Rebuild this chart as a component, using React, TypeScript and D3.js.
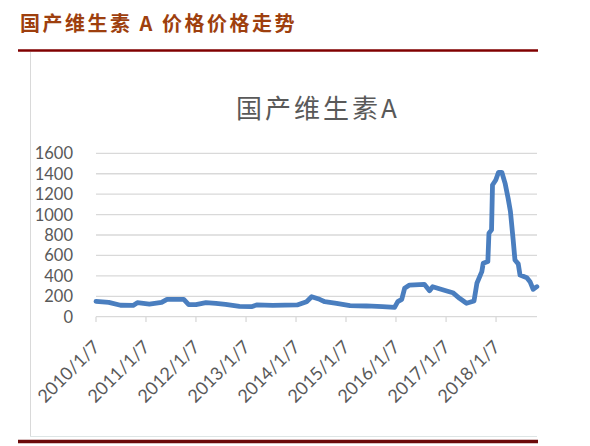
import React from "react";
import * as d3 from "d3";

const dates = [
  "2010-01-07","2010-04-10","2010-07-05","2010-10-05","2010-11-05","2011-02-01","2011-05-01","2011-06-10","2011-10-10","2011-11-15",
  "2012-01-07","2012-03-20","2012-06-01","2012-08-10","2012-11-20","2013-02-15","2013-03-25","2013-07-20","2014-01-15","2014-03-25",
  "2014-05-01","2014-06-28","2014-08-05","2014-10-30","2015-02-05","2015-06-05","2015-10-01","2015-12-28","2016-01-20","2016-02-18",
  "2016-03-10","2016-04-15","2016-08-01","2016-09-08","2016-10-01","2017-01-12","2017-02-25","2017-04-15","2017-06-05","2017-07-30",
  "2017-08-20","2017-09-25","2017-10-05","2017-11-08","2017-11-16","2017-12-05","2017-12-12","2018-01-05","2018-01-25","2018-02-18",
  "2018-03-14","2018-04-05","2018-04-22","2018-05-12","2018-05-25","2018-06-18","2018-07-01","2018-08-20","2018-09-12","2018-10-05",
  "2018-11-01"
];
const values = [
  150,140,112,110,137,124,140,170,170,118,
  118,137,131,121,102,98,115,111,115,147,
  196,170,147,131,108,105,98,92,147,170,
  278,310,317,255,294,252,235,180,131,154,
  327,441,523,540,817,850,1290,1339,1414,1414,
  1306,1160,1029,751,555,517,408,382,343,268,
  294
];
const tickLabels = ["2010/1/7","2011/1/7","2012/1/7","2013/1/7","2014/1/7","2015/1/7","2016/1/7","2017/1/7","2018/1/7"];
const yTicks = [0,200,400,600,800,1000,1200,1400,1600];

export default function App() {
  const parse = d3.timeParse("%Y-%m-%d");
  const parseTick = d3.timeParse("%Y/%m/%d");
  const data = dates.map((d, i) => ({ date: parse(d) as Date, value: values[i] }));
  const x = d3.scaleTime().domain([parse("2010-01-07") as Date, parse("2018-11-02") as Date]).range([96, 537]);
  const y = d3.scaleLinear().domain([0, 1600]).range([316.7, 153.3]);
  const line = d3.line<{ date: Date; value: number }>().x(d => x(d.date)).y(d => y(d.value));
  const gray = "#595959";
  const font = "Lato, 'Open Sans', sans-serif";
  return (
    <svg width={590} height={446} style={{ position: "absolute", left: 0, top: 0, background: "#fff" }}>
      <text x={20} y={31} fontSize={20} fontWeight="bold" fill="#9e3f0e" letterSpacing={2.5}
        fontFamily="'Noto Sans CJK SC', sans-serif">国产维生素 A 价格价格走势</text>
      <line x1={18} x2={538} y1={50.5} y2={50.5} stroke="#800000" strokeWidth={2.5} />
      <line x1={30.5} x2={30.5} y1={52} y2={437} stroke="#d9d9d9" strokeWidth={1} />
      <line x1={30} x2={537} y1={436.5} y2={436.5} stroke="#dde5e5" strokeWidth={1} />
      <line x1={18} x2={538} y1={441.5} y2={441.5} stroke="#6b0a0a" strokeWidth={3.5} />
      <text x={318} y={118} textAnchor="middle" fontSize={26} letterSpacing={3} fill={gray}
        fontFamily="'Noto Sans CJK SC', sans-serif">国产维生素A</text>
      {yTicks.map(t => (
        <g key={t}>
          <line x1={96} x2={537} y1={y(t)} y2={y(t)} stroke="#d9d9d9" strokeWidth={1.3} />
          <text x={73} y={y(t) + 6} textAnchor="end" fontSize={16.5} fill={gray} fontFamily={font}>{t}</text>
        </g>
      ))}
      {tickLabels.map(l => {
        const tx = x(parseTick(l) as Date);
        return (
          <g key={l}>
            <line x1={tx} x2={tx} y1={316.7} y2={322} stroke="#d9d9d9" strokeWidth={1.3} />
            <text transform={`translate(${tx + 5},${348}) rotate(-45)`} textAnchor="end" fontSize={18} fill={gray}
              fontFamily={font}>{l}</text>
          </g>
        );
      })}
      <path d={line(data) || ""} fill="none" stroke="#4a7ebf" strokeWidth={4.8} strokeLinejoin="round" strokeLinecap="round" />
    </svg>
  );
}
